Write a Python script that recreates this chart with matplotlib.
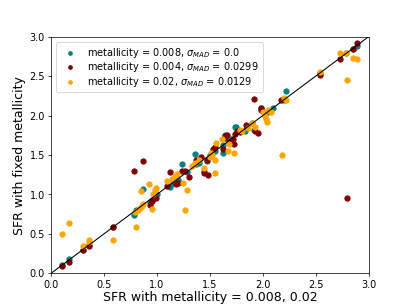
import numpy as np
import matplotlib
matplotlib.use('Agg')
from matplotlib import pyplot as plt

# SFR values, one (x, y) list per metallicity
teal_x = [0.10, 0.17, 0.30, 0.36, 0.58, 0.78, 0.80, 0.87, 0.93, 0.95, 1.00, 1.12, 1.15, 1.20,
          1.235, 1.28, 1.36, 1.37, 1.40, 1.44, 1.47, 1.50, 1.55, 1.62, 1.62, 1.64, 1.70, 1.74,
          1.75, 1.83, 1.84, 1.90, 1.92, 1.98, 2.05, 2.10, 2.20, 2.22, 2.54, 2.79, 2.85, 2.89]
teal_y = [0.11, 0.18, 0.30, 0.36, 0.58, 0.74, 0.80, 1.07, 0.90, 0.93, 1.00, 1.09, 1.15, 1.18,
          1.38, 1.28, 1.51, 1.39, 1.40, 1.29, 1.42, 1.50, 1.55, 1.52, 1.63, 1.75, 1.70, 1.86,
          1.85, 1.80, 1.83, 1.90, 1.82, 2.10, 2.05, 2.10, 2.20, 2.31, 2.54, 2.79, 2.84, 2.88]

maroon_x = [0.10, 0.17, 0.30, 0.36, 0.58, 0.78, 0.87, 0.93, 0.95, 0.99, 1.09, 1.12, 1.18, 1.20,
            1.235, 1.26, 1.30, 1.37, 1.42, 1.44, 1.48, 1.47, 1.53, 1.55, 1.62, 1.64, 1.66, 1.64,
            1.73, 1.74, 1.68, 1.72, 1.76, 1.78, 1.84, 1.93, 1.95, 1.92, 1.98, 1.98, 2.17, 2.20,
            2.54, 2.73, 2.80, 2.85, 2.89]
maroon_y = [0.09, 0.14, 0.29, 0.35, 0.58, 1.29, 1.42, 0.87, 0.92, 0.96, 1.10, 1.28, 1.13, 1.15,
            1.30, 1.30, 1.22, 1.43, 1.48, 1.27, 1.24, 1.44, 1.58, 1.60, 1.58, 1.74, 1.75, 1.71,
            1.64, 1.76, 1.67, 1.70, 1.80, 1.79, 1.88, 1.80, 1.78, 2.21, 2.10, 2.07, 2.20, 2.21,
            2.52, 2.72, 0.96, 2.84, 2.92]

orange_x = [0.10, 0.17, 0.30, 0.36, 0.36, 0.58, 0.80, 0.79, 0.82, 0.84, 0.86, 0.87, 0.85, 0.92,
            0.95, 0.96, 0.98, 0.99, 1.09, 1.14, 1.17, 1.19, 1.25, 1.26, 1.28, 1.33, 1.36, 1.40,
            1.44, 1.50, 1.51, 1.52, 1.55, 1.55, 1.56, 1.61, 1.67, 1.68, 1.73, 1.78, 1.80, 1.86,
            1.90, 1.93, 2.00, 2.02, 2.03, 2.05, 2.08, 2.04, 2.18, 2.20, 2.22, 2.54, 2.73, 2.80,
            2.79, 2.85, 2.89]
orange_y = [0.50, 0.64, 0.34, 0.42, 0.39, 0.42, 0.59, 0.78, 0.80, 0.83, 0.85, 0.88, 1.04, 1.13,
            0.82, 1.00, 1.05, 1.08, 1.17, 1.20, 1.23, 1.26, 1.15, 0.80, 1.06, 1.36, 1.40, 1.43,
            1.33, 1.48, 1.53, 1.50, 1.44, 1.27, 1.65, 1.70, 1.55, 1.64, 1.52, 1.82, 1.80, 1.84,
            1.90, 1.85, 2.04, 2.00, 1.96, 2.07, 2.05, 1.92, 1.50, 2.22, 2.20, 2.55, 2.79, 2.45,
            2.79, 2.73, 2.72]

fig = plt.figure(figsize=(6.4, 4.8), dpi=64)
ax = fig.add_subplot(111)

ax.scatter(teal_x, teal_y, color='teal', label=r'metallicity = 0.008, $\sigma_{MAD}$ = 0.0')
ax.scatter(maroon_x, maroon_y, color='maroon', label=r'metallicity = 0.004, $\sigma_{MAD}$ = 0.0299')
ax.scatter(orange_x, orange_y, color='orange', label=r'metallicity = 0.02, $\sigma_{MAD}$ = 0.0129')
ax.plot([0, 3], [0, 3], color='k', lw=1.2)

ax.set_xlim(0, 3)
ax.set_ylim(0, 3)
ax.tick_params(labelsize=11)
ax.set_xlabel('SFR with metallicity = 0.008, 0.02', fontsize=14, labelpad=1)
ax.set_ylabel('SFR with fixed metallicity', fontsize=14)
ax.legend(loc='upper left', fontsize=11, markerscale=0.7, labelspacing=0.05)

plt.savefig('out.png', dpi=64)
